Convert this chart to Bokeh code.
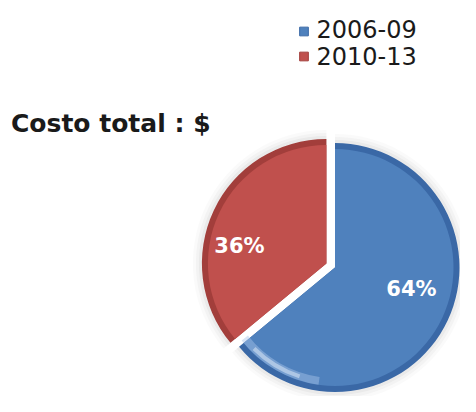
import math
from bokeh.plotting import figure
from bokeh.models import Range1d, ColumnDataSource
from bokeh.core.properties import value
from bokeh.embed import file_html
from bokeh.resources import INLINE

# ---- data ----
categories = ["2006-09", "2010-13"]
values = [64, 36]
colors = ["#4F81BD", "#C0504D"]
dark_colors = ["#3A68A6", "#A23E3B"]
title_text = "Costo total : $"

W, H = 460, 396
p = figure(width=W, height=H, output_backend="svg", toolbar_location=None,
           x_range=Range1d(0, W), y_range=Range1d(0, H), min_border=0)
p.axis.visible = False
p.grid.visible = False
p.outline_line_color = None
p.background_fill_color = "white"
p.border_fill_color = "white"

# pie geometry (layout)
cx, cy, r = 334.5, 129, 124.5
explode = [0, 9.5]
label_pos = [(411, 108), (239, 151)]

total = sum(values)
start = math.pi / 2
starts, ends, xs, ys = [], [], [], []
for i, v in enumerate(values):
    sweep = 2 * math.pi * v / total
    a0, a1 = start - sweep, start  # clockwise from top
    mid = (a0 + a1) / 2
    xs.append(cx + explode[i] * math.cos(mid))
    ys.append(cy + explode[i] * math.sin(mid))
    starts.append(a0)
    ends.append(a1)
    start = a0

src = ColumnDataSource(dict(x=xs, y=ys, s=starts, e=ends, c=colors, d=dark_colors,
                            cat=categories,
                            lab=[f"{v / total * 100:.0f}%" for v in values],
                            lx=[q[0] for q in label_pos], ly=[q[1] for q in label_pos]))

# soft shadow
for k, a in [(9, 0.04), (6, 0.06), (3, 0.08)]:
    p.wedge(x="x", y="y", radius=r + k, start_angle="s", end_angle="e",
            fill_color="#808080", fill_alpha=a, line_color=None, source=src)
# bevel edge
p.wedge(x="x", y="y", radius=r, start_angle="s", end_angle="e",
        fill_color="d", line_color=None, source=src)
p.wedge(x="x", y="y", radius=r - 6, start_angle="s", end_angle="e",
        fill_color="c", line_color=None, source=src)
# soft highlight on the lower-left rim of the first slice
p.annular_wedge(x=[xs[0]], y=[ys[0]], inner_radius=r - 14, outer_radius=r - 6,
                start_angle=math.radians(218), end_angle=math.radians(262),
                fill_color="#A9C4E8", fill_alpha=0.45, line_color=None)
p.annular_wedge(x=[xs[0]], y=[ys[0]], inner_radius=r - 12, outer_radius=r - 8,
                start_angle=math.radians(225), end_angle=math.radians(252),
                fill_color="#E4EEFA", fill_alpha=0.5, line_color=None)

p.text(x="lx", y="ly", text="lab", source=src, text_color="white",
       text_font=value("DejaVu Sans"), text_font_style="bold",
       text_font_size="21px", text_align="center", text_baseline="middle")

# title
p.text(x=[10.5], y=[273], text=[title_text], text_color="#1a1a1a",
       text_font=value("DejaVu Sans"), text_font_style="bold",
       text_font_size="25px", text_align="left", text_baseline="middle")

# legend
leg_y = [368, 341]
p.rect(x=[303.5] * len(categories), y=[365, 340], width=8.7, height=8.7,
       fill_color=colors, line_color=dark_colors)
p.text(x=[316] * len(categories), y=leg_y, text=categories, text_color="#1a1a1a",
       text_font=value("DejaVu Sans"), text_font_size="24px",
       text_align="left", text_baseline="middle")

open("out.html", "w").write(file_html(p, INLINE))
